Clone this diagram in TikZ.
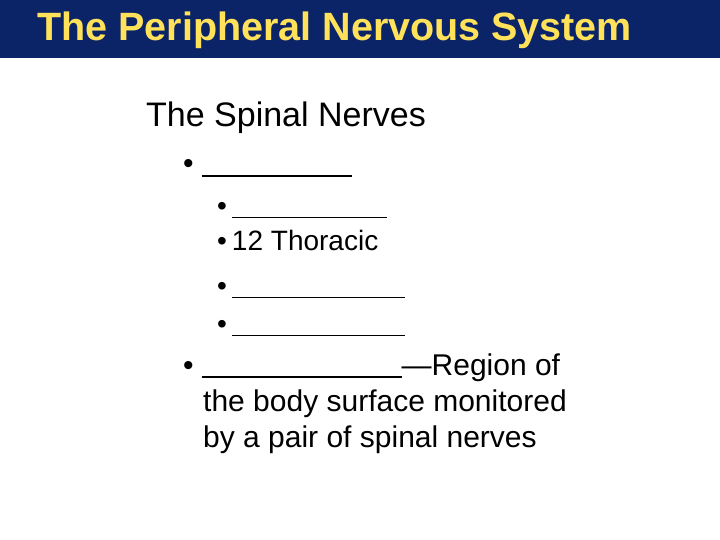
\documentclass[tikz,border=0pt]{standalone}
\usepackage{fontspec}
\setmainfont{Liberation Sans}
\definecolor{navy}{HTML}{0B2468}
\definecolor{ttl}{HTML}{FFE15A}
\begin{document}
\begin{tikzpicture}[x=1pt,y=-1pt,
 txt/.style={anchor=base west,inner sep=0pt,font=\fontsize{#1}{#1}\selectfont}]
\useasboundingbox (0,0) rectangle (720,540);
\fill[white] (0,0) rectangle (720,540);
\fill[navy] (0,0) rectangle (720,58);
\node[txt=39,text=ttl,font=\fontsize{39.5}{39.5}\selectfont\bfseries] (title) at (37,41) {The Peripheral Nervous System};
\node[txt=34] (h) at (146,127) {The Spinal Nerves};
\node[txt=30] (b1) at (183,174) {•\hspace{8pt}\raisebox{-3pt}{\rule{150pt}{2.2pt}}};
\node[txt=28] (c1) at (217,215) {•\hspace{5pt}\raisebox{-3pt}{\rule{155pt}{1.4pt}}};
\node[txt=28] (c2) at (217,250) {•\hspace{5pt}12 Thoracic};
\node[txt=28] (c3) at (217,295) {•\hspace{5pt}\raisebox{-3pt}{\rule{173pt}{1.4pt}}};
\node[txt=28] (c4) at (217,333) {•\hspace{5pt}\raisebox{-3pt}{\rule{173pt}{1.4pt}}};
\node[txt=30] (b2) at (183,375) {•\hspace{8pt}\raisebox{-3pt}{\rule{200pt}{2.2pt}}—Region of};
\node[txt=30] (b2b) at (203,411) {the body surface monitored};
\node[txt=30] (b2c) at (203,447) {by a pair of spinal nerves};
\end{tikzpicture}
\end{document}
